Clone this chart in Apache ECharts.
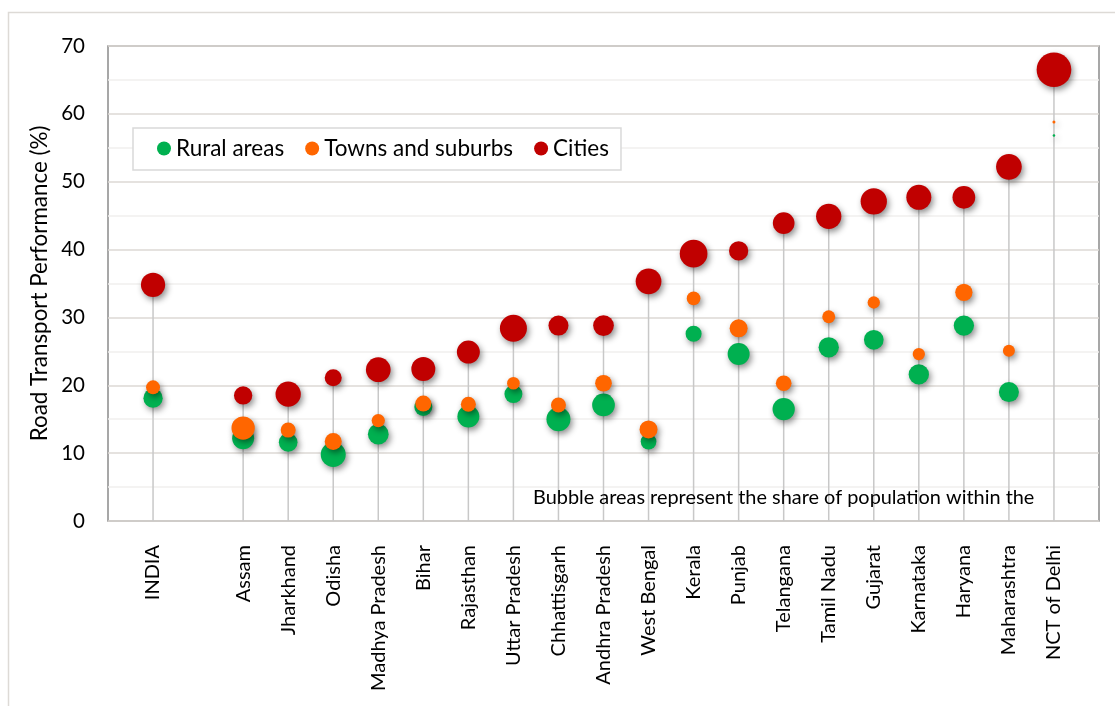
<!DOCTYPE html>
<html>
<head>
<meta charset="utf-8">
<title>Road Transport Performance by degree of urbanisation</title>
<script src="https://cdn.jsdelivr.net/npm/echarts@6/dist/echarts.min.js"></script>
<style>
  html, body { margin: 0; padding: 0; background: #ffffff; }
  #chart { width: 1115px; height: 706px; }
</style>
</head>
<body>
<div id="chart"></div>
<script>
// Regions, national total first, then states ordered by city performance
const regions = ['INDIA', 'Assam', 'Jharkhand', 'Odisha', 'Madhya Pradesh', 'Bihar', 'Rajasthan',
  'Uttar Pradesh', 'Chhattisgarh', 'Andhra Pradesh', 'West Bengal', 'Kerala', 'Punjab', 'Telangana',
  'Tamil Nadu', 'Gujarat', 'Karnataka', 'Haryana', 'Maharashtra', 'NCT of Delhi'];

// Road Transport Performance (%)
const ruralPerf = [18.1, 12.2, 11.6, 9.8, 12.8, 16.8, 15.4, 18.7, 15.0, 17.1, 11.7, 27.6, 24.6, 16.5, 25.6, 26.7, 21.6, 28.8, 19.0, 56.8];
const townPerf = [19.7, 13.7, 13.4, 11.7, 14.8, 17.3, 17.2, 20.3, 17.1, 20.3, 13.5, 32.8, 28.4, 20.3, 30.1, 32.2, 24.6, 33.7, 25.1, 58.8];
const cityPerf = [34.8, 18.5, 18.7, 21.1, 22.3, 22.4, 24.9, 28.4, 28.8, 28.8, 35.3, 39.4, 39.8, 43.9, 44.9, 47.1, 47.7, 47.7, 52.2, 66.5];

// Share of population living in each class of area (%), shown as bubble area
const ruralShare = [28.7, 37.3, 27.0, 48.2, 33.1, 25.0, 37.3, 25.0, 44.4, 39.8, 19.0, 19.8, 37.3, 38.4, 31.8, 29.9, 31.8, 31.8, 30.9, 0.5];
const townShare = [15.1, 41.9, 17.4, 22.3, 13.6, 19.8, 17.4, 12.4, 17.4, 21.5, 25.0, 14.5, 25.0, 19.0, 13.0, 11.7, 11.7, 23.1, 11.1, 0.7];
const cityShare = [45.5, 25.8, 49.4, 22.3, 47.1, 44.4, 40.8, 56.3, 30.9, 33.1, 51.0, 59.2, 28.7, 36.3, 49.4, 53.4, 48.2, 39.8, 51.0, 92.9];

const yTicks = [0, 10, 20, 30, 40, 50, 60, 70];

// Axis slots: an empty slot at each end and one separating the national total from the states
const axisSlots = [''].concat([regions[0], ''], regions.slice(1), ['']);
const slotOf = i => (i === 0 ? 1 : i + 2);

const FONT = 'Lato, "Open Sans", sans-serif';
const bubbleScale = 3.6; // px of diameter per sqrt(% share)

function bubbles(perf, share) {
  return perf.map((v, i) => [slotOf(i), v, share[i]]);
}

const shadow = {
  shadowBlur: 6,
  shadowOffsetX: 2,
  shadowOffsetY: 3,
  shadowColor: 'rgba(0,0,0,0.45)'
};

function bubbleSeries(name, color, perf, share, z) {
  return {
    name: name,
    type: 'scatter',
    z: z,
    data: bubbles(perf, share),
    symbol: 'circle',
    symbolSize: d => bubbleScale * Math.sqrt(d[2]),
    itemStyle: Object.assign({ color: color, opacity: 1 }, shadow),
    emphasis: { disabled: true }
  };
}

const chart = echarts.init(document.getElementById('chart'), null, { renderer: 'canvas' });

chart.setOption({
  animation: false,
  backgroundColor: '#ffffff',
  textStyle: { fontFamily: FONT },
  graphic: [
    {
      type: 'rect',
      shape: { x: 8.5, y: 12.5, width: 1120, height: 720 },
      style: { fill: 'none', stroke: '#dddad6', lineWidth: 1.5 },
      z: -10,
      silent: true
    },
    {
      type: 'text',
      left: 533,
      top: 488,
      style: {
        text: 'Bubble areas represent the share of population within the',
        fontFamily: FONT,
        fontSize: 19.9,
        fill: '#000000'
      },
      z: 50
    }
  ],
  grid: {
    left: 108,
    top: 46,
    right: 16,
    bottom: 185,
    show: true,
    borderColor: '#8a8a8a',
    borderWidth: 1.5,
    backgroundColor: 'transparent'
  },
  legend: {
    data: ['Rural areas', 'Towns and suburbs', 'Cities'],
    left: 133,
    top: 128,
    orient: 'horizontal',
    padding: [9, 12, 10, 24],
    itemGap: 21,
    itemWidth: 14,
    itemHeight: 14,
    icon: 'circle',
    backgroundColor: '#ffffff',
    borderColor: '#d9d9d9',
    borderWidth: 1.5,
    textStyle: { fontFamily: FONT, fontSize: 22.5, color: '#000000' },
    itemStyle: { shadowBlur: 0, shadowOffsetX: 0, shadowOffsetY: 0, shadowColor: 'transparent' },
    z: 40
  },
  xAxis: {
    type: 'category',
    data: axisSlots,
    boundaryGap: false,
    axisLine: { show: false },
    axisTick: { show: false },
    splitLine: { show: false },
    axisLabel: {
      interval: 0,
      rotate: 90,
      margin: 24,
      fontFamily: FONT,
      fontSize: 20,
      color: '#000000'
    }
  },
  yAxis: {
    type: 'value',
    min: yTicks[0],
    max: yTicks[yTicks.length - 1],
    interval: 10,
    name: 'Road Transport Performance (%)',
    nameLocation: 'middle',
    nameGap: 55,
    nameTextStyle: { fontFamily: FONT, fontSize: 22.4, color: '#000000' },
    axisLine: { show: false },
    axisTick: { show: false },
    axisLabel: { fontFamily: FONT, fontSize: 20.5, color: '#000000', margin: 23 },
    splitLine: { show: true, lineStyle: { color: '#dcd9d5', width: 1.5 } },
    minorTick: { show: false, splitNumber: 2 },
    minorSplitLine: { show: true, lineStyle: { color: '#f1f0ee', width: 1.5 } }
  },
  series: [
    {
      // drop lines from the axis up to each city bubble
      name: 'drop',
      type: 'custom',
      silent: true,
      z: 1,
      data: cityPerf.map((v, i) => [slotOf(i), v]),
      renderItem: function (params, api) {
        const top = api.coord([api.value(0), api.value(1)]);
        const base = api.coord([api.value(0), 0]);
        return {
          type: 'line',
          shape: { x1: top[0], y1: top[1], x2: base[0], y2: base[1] },
          style: { stroke: '#c8c8c8', lineWidth: 1.5 }
        };
      }
    },
    bubbleSeries('Rural areas', '#00b050', ruralPerf, ruralShare, 3),
    bubbleSeries('Towns and suburbs', '#ff6600', townPerf, townShare, 4),
    bubbleSeries('Cities', '#c00000', cityPerf, cityShare, 5)
  ]
});
</script>
</body>
</html>
